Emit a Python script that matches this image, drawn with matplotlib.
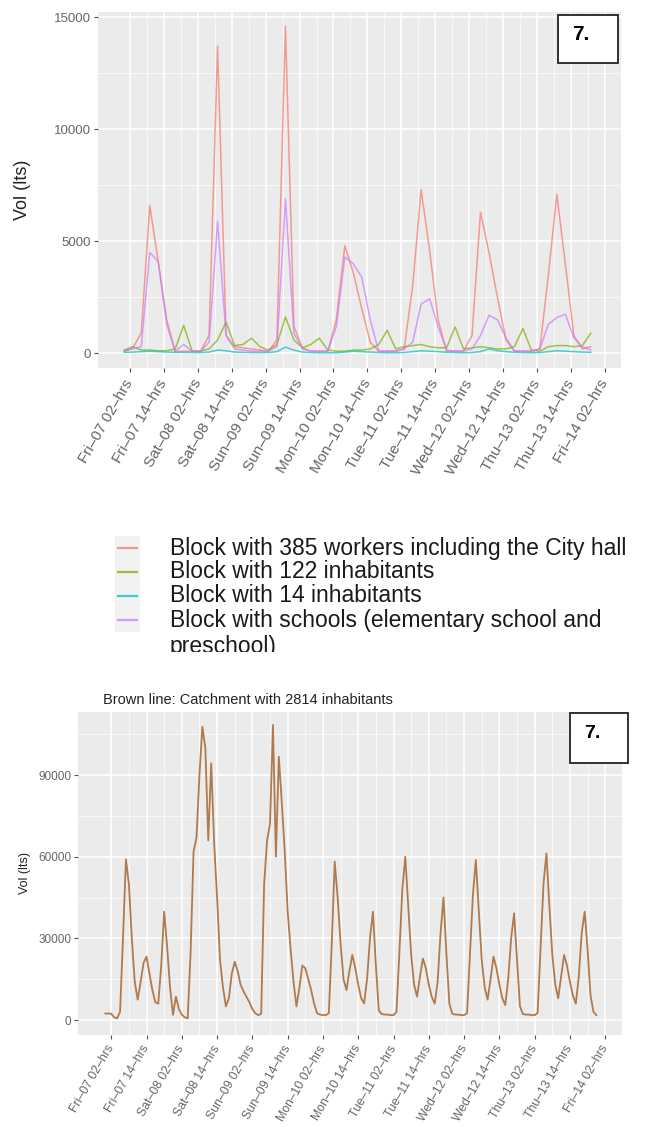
import numpy as np
import matplotlib.pyplot as plt
from matplotlib.lines import Line2D
from matplotlib.patches import Rectangle

plt.rcParams['font.family'] = ['Liberation Sans', 'DejaVu Sans']

W, H = 652, 1127

# block series: one sample every 3 hours, hours counted from Fri-07 00:00
hours_3h = np.arange(0, 168, 3)
workers = [100, 250, 900, 6600, 4100, 1500, 80, 100,
           100, 100, 800, 13700, 800, 300, 250, 200,
           150, 100, 600, 14600, 1200, 250, 100, 100,
           100, 1500, 4800, 3600, 2000, 500, 100, 100,
           100, 200, 3000, 7300, 4600, 1500, 100, 100,
           100, 800, 6300, 4500, 2500, 600, 100, 100,
           100, 200, 3500, 7100, 4000, 800, 200, 300]
inhab_122 = [150, 300, 150, 150, 120, 120, 200, 1250,
             100, 100, 200, 600, 1400, 350, 400, 680,
             300, 150, 400, 1630, 600, 250, 400, 680,
             150, 100, 100, 150, 150, 200, 400, 1030,
             200, 300, 350, 400, 300, 250, 250, 1180,
             200, 250, 300, 250, 200, 200, 300, 1110,
             150, 100, 300, 350, 350, 300, 350, 900]
inhab_14 = [50, 60, 80, 100, 80, 60, 50, 50,
            40, 40, 60, 150, 120, 60, 50, 40,
            40, 40, 80, 280, 150, 60, 40, 30,
            30, 30, 60, 100, 80, 60, 40, 30,
            30, 40, 80, 120, 100, 80, 50, 40,
            30, 40, 80, 200, 120, 80, 50, 40,
            30, 40, 80, 120, 100, 80, 60, 50]
schools = [100, 200, 300, 4500, 4100, 1300, 100, 400,
           100, 100, 500, 5900, 800, 200, 150, 100,
           100, 100, 300, 6900, 900, 200, 100, 100,
           100, 1200, 4300, 4000, 3400, 1500, 100, 100,
           100, 200, 500, 2200, 2440, 1200, 150, 100,
           100, 200, 800, 1700, 1500, 700, 100, 100,
           100, 200, 1300, 1600, 1750, 700, 300, 150]

# catchment series: hourly
hours_1h = np.arange(0, 168)
catchment = [
    2400, 2400, 2300, 1000, 600, 3000, 30000, 59000, 50000, 30000, 14000, 7500,
    14000, 21000, 23300, 17000, 11000, 6500, 6000, 20000, 39800, 27000, 12000, 1900,
    8600, 4000, 2000, 1000, 600, 25000, 62000, 67000, 90000, 107700, 100000, 66000,
    94300, 65000, 45000, 22000, 12000, 5000, 8000, 17000, 21400, 18000, 13000, 10500,
    8500, 6500, 4000, 2500, 1800, 2300, 50000, 66000, 72000, 108400, 60000, 96700,
    80000, 62000, 40000, 26000, 14000, 5000, 12000, 20000, 19000, 15000, 11000, 6000,
    2500, 2000, 1800, 1800, 2500, 28000, 58200, 45000, 28000, 15000, 11000, 18000,
    23900, 19000, 13000, 8000, 6100, 15000, 30000, 39800, 20000, 3500, 2200, 2000,
    2000, 1800, 1800, 3000, 25000, 48000, 60000, 42000, 24000, 13000, 8600, 16000,
    22600, 19000, 13000, 8500, 6000, 14000, 32000, 45000, 24000, 6000, 2300, 2000,
    2000, 1800, 1800, 2500, 24000, 46000, 58800, 40000, 22000, 12000, 7500, 15000,
    23300, 19000, 13000, 8000, 5500, 15000, 30000, 39200, 22000, 5000, 2200, 2000,
    2000, 1800, 1800, 2600, 26000, 50000, 61200, 42000, 24000, 13000, 8000, 16000,
    23900, 20000, 14000, 9000, 6000, 16000, 32000, 39800, 26000, 9000, 3000, 1800]

tick_hours = np.arange(2, 171, 12)
tick_labels = ["Fri–07 02–hrs", "Fri–07 14–hrs", "Sat–08 02–hrs", "Sat–08 14–hrs",
               "Sun–09 02–hrs", "Sun–09 14–hrs", "Mon–10 02–hrs", "Mon–10 14–hrs",
               "Tue–11 02–hrs", "Tue–11 14–hrs", "Wed–12 02–hrs", "Wed–12 14–hrs",
               "Thu–13 02–hrs", "Thu–13 14–hrs", "Fri–14 02–hrs"]

block_names = ["Block with 385 workers including the City hall",
               "Block with 122 inhabitants",
               "Block with 14 inhabitants",
               "Block with schools (elementary school and\npreschool)"]
block_colors = ["#F8766D", "#7CAE00", "#00BFC4", "#C77CFF"]


def px_axes(fig, left, top, right, bottom):
    return fig.add_axes([left / W, 1 - bottom / H, (right - left) / W, (bottom - top) / H])


def gg_style(ax, yticks, yminor, tick_size, label_size, rot_pad):
    ax.set_facecolor("#ebebeb")
    for s in ax.spines.values():
        s.set_visible(False)
    ax.set_xticks(tick_hours)
    ax.set_xticks(tick_hours[:-1] + 6, minor=True)
    ax.set_yticks(yticks)
    ax.set_yticks(yminor, minor=True)
    ax.grid(which="major", color="white", lw=1.1)
    ax.grid(which="minor", color="white", lw=0.5)
    ax.set_axisbelow(True)
    ax.tick_params(which="minor", length=0)
    ax.tick_params(which="major", length=3, color="#555555", width=0.8,
                   labelsize=tick_size, labelcolor="#666666", pad=2)
    ax.set_xticklabels(tick_labels, rotation=60, ha="right", va="center",
                       rotation_mode="anchor", fontsize=label_size)
    ax.tick_params(axis="x", pad=rot_pad)
    ax.set_xlim(-9.3, 175.7)


fig = plt.figure(figsize=(W / 100, H / 100), dpi=100)

# upper chart: blocks
ax1 = px_axes(fig, 98, 12, 621, 368)
gg_style(ax1, [0, 5000, 10000, 15000], [2500, 7500, 12500], 9.5, 11, 6)
for vals, c in zip([workers, inhab_122, inhab_14, schools], block_colors):
    ax1.plot(hours_3h, vals, color=c, lw=1.1, alpha=0.7)
ax1.set_ylim(-650, 15230)
ax1.set_ylabel("Vol (lts)", fontsize=13, color="#222222", va="center")
ax1.yaxis.set_label_coords(-0.145, 0.5)

fig.add_artist(Rectangle((558 / W, 1 - 63 / H), 60 / W, 48 / H, transform=fig.transFigure,
                         facecolor="white", edgecolor="#222222", lw=1.3))
fig.text(581 / W, 1 - 34 / H, "7.", fontsize=15, fontweight="bold", ha="center", va="center")

# legend rows
rows = [548, 572, 596, 620]
for y, name, c in zip(rows, block_names, block_colors):
    fig.add_artist(Rectangle((115 / W, 1 - (y + 12) / H), 25 / W, 24 / H,
                             transform=fig.transFigure, facecolor="#f2f2f2", lw=0))
    fig.add_artist(Line2D([118 / W, 137 / W], [1 - y / H] * 2, transform=fig.transFigure,
                          color=c, lw=1.6, alpha=0.75))
    for i, part in enumerate(name.split("\n")):
        fig.text(170 / W, 1 - (y + 26 * i) / H, part, fontsize=16.5, color="#1a1a1a",
                 ha="left", va="center")

# white band that hides the wrapped legend line under the lower chart
fig.add_artist(Rectangle((0, 0), 1, 1 - 652 / H, transform=fig.transFigure,
                         facecolor="white", lw=0, zorder=6))

# lower chart: catchment
ax2 = px_axes(fig, 78, 712, 622, 1035)
ax2.set_zorder(7)
gg_style(ax2, [0, 30000, 60000, 90000], [15000, 45000, 75000, 105000], 8.5, 8.8, 5)
ax2.plot(hours_1h, catchment, color="#b07a4e", lw=1.3)
ax2.set_ylim(-5500, 113150)
ax2.set_ylabel("Vol (lts)", fontsize=9, color="#222222", va="center")
ax2.yaxis.set_label_coords(-0.098, 0.5)

t = fig.text(103 / W, 1 - 700 / H, "Brown line: Catchment with 2814 inhabitants",
             fontsize=10.5, color="#222222", ha="left", va="center")
t.set_zorder(8)
fig.add_artist(Rectangle((570 / W, 1 - 763 / H), 58 / W, 50 / H, transform=fig.transFigure,
                         facecolor="white", edgecolor="#222222", lw=1.3, zorder=8))
fig.text(592 / W, 1 - 733 / H, "7.", fontsize=14, fontweight="bold", ha="center",
         va="center", zorder=9)

fig.savefig("out.png", dpi=100)
